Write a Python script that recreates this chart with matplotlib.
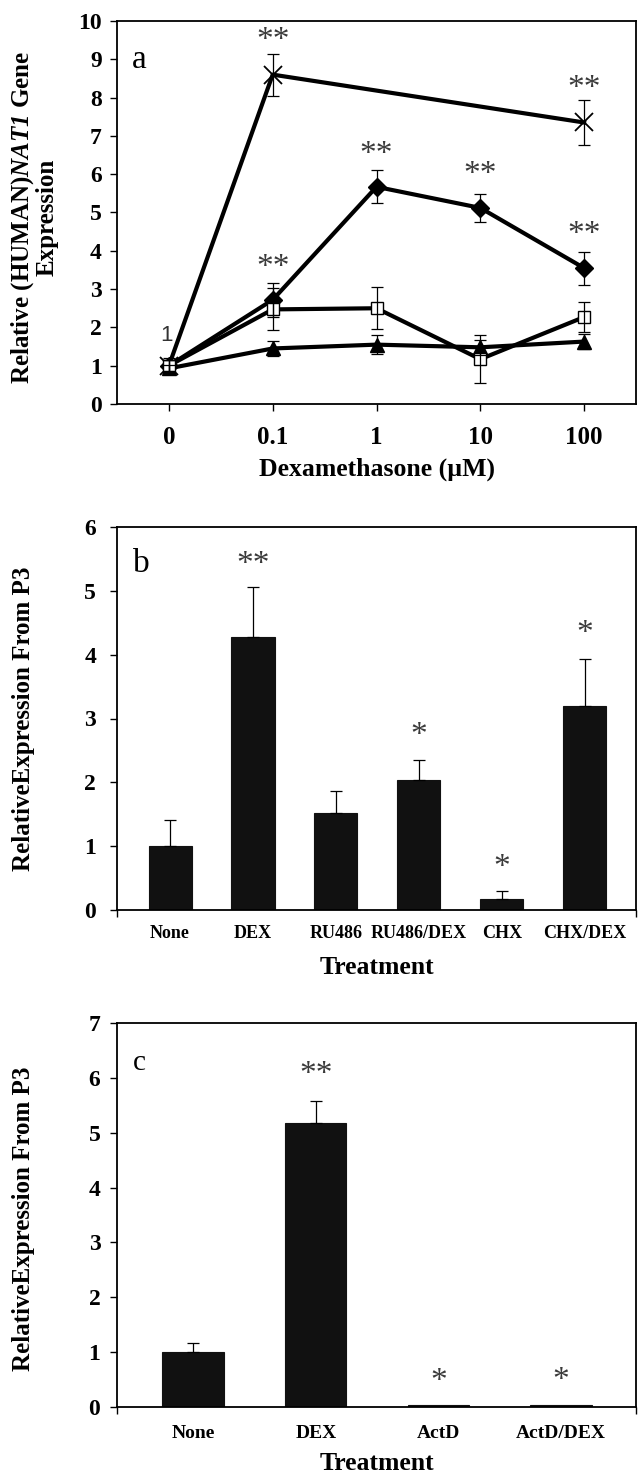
import numpy as np
import matplotlib
matplotlib.use("Agg")
import matplotlib.pyplot as plt
import matplotlib.transforms as mtransforms

plt.rcParams['font.family'] = ['Liberation Serif', 'DejaVu Serif']
plt.rcParams['mathtext.fontset'] = 'custom'
plt.rcParams['mathtext.rm'] = 'Liberation Serif'
plt.rcParams['mathtext.bfit'] = 'Liberation Serif:italic:bold'
plt.rcParams['mathtext.bf'] = 'Liberation Serif:bold'

# panel a: dexamethasone dose response
doses = ['0', '0.1', '1', '10', '100']
cross_idx = [0, 1, 4]
cross_val = [1.0, 8.6, 7.35]
cross_err = [0.15, 0.55, 0.58]
diamond_val = [1.0, 2.72, 5.67, 5.12, 3.55]
diamond_err = [0.2, 0.45, 0.43, 0.36, 0.43]
square_val = [1.0, 2.47, 2.5, 1.17, 2.27]
square_err = [0.15, 0.55, 0.55, 0.63, 0.4]
triangle_val = [0.93, 1.45, 1.55, 1.48, 1.63]
triangle_err = [0.1, 0.2, 0.25, 0.2, 0.2]
stars_a_x = [1, 4, 2, 3, 4, 1]
stars_a_y = [9.67, 8.41, 6.7, 6.18, 4.6, 3.75]
stars_a_txt = ['**', '**', '**', '**', '**', '**']

# panel b: treatments
treat_b = ['None', 'DEX', 'RU486', 'RU486/DEX', 'CHX', 'CHX/DEX']
bars_b = [1.0, 4.28, 1.52, 2.03, 0.18, 3.2]
err_b = [0.41, 0.78, 0.35, 0.32, 0.12, 0.73]
stars_b_x = [1, 3, 4, 5]
stars_b_y = [5.51, 2.84, 0.77, 4.44]
stars_b_txt = ['**', '*', '*', '*']

# panel c: actinomycin D
treat_c = ['None', 'DEX', 'ActD', 'ActD/DEX']
bars_c = [1.0, 5.17, 0.03, 0.03]
err_c = [0.17, 0.41, 0.0, 0.0]
stars_c_x = [1, 2, 3]
stars_c_y = [6.18, 0.58, 0.61]
stars_c_txt = ['**', '*', '*']

W, H = 638, 1475
fig = plt.figure(figsize=(W / 100, H / 100), dpi=100)


def rect(top, bottom, left=117, right=636):
    return [left / W, 1 - bottom / H, (right - left) / W, (bottom - top) / H]


def style_axes(ax, ypad):
    for s in ax.spines.values():
        s.set_linewidth(1.3)
    ax.tick_params(axis='y', direction='out', length=5, width=1, pad=ypad,
                   labelsize=17)
    for lab in ax.get_yticklabels():
        lab.set_fontweight('bold')


def stars(ax, xs, ys, txts):
    off = mtransforms.offset_copy(ax.transData, fig=fig, x=0, y=-5, units='points')
    for x, y, t in zip(xs, ys, txts):
        ax.text(x, y, t, transform=off, ha='center', va='center', fontsize=24,
                color='#3a3a3a')


# ---- panel a
ax = fig.add_axes(rect(21, 404))
x = np.arange(len(doses))
lw = 3
ax.plot(cross_idx, cross_val, color='black', lw=lw, marker='x', ms=13, mew=1.3, zorder=3)
ax.plot(x, diamond_val, color='black', lw=lw, marker='D', ms=9.5, zorder=3)
ax.plot(x, square_val, color='black', lw=lw, marker='s', ms=8, mfc='white', mew=1, zorder=4)
ax.plot(x, triangle_val, color='black', lw=lw, marker='^', ms=10, zorder=3)
ekw = dict(fmt='none', ecolor='black', elinewidth=0.9, capsize=4, capthick=0.9, zorder=5)
ax.errorbar(cross_idx, cross_val, yerr=cross_err, **ekw)
ax.errorbar(x, diamond_val, yerr=diamond_err, **ekw)
ax.errorbar(x, square_val, yerr=square_err, **ekw)
ax.errorbar(x, triangle_val, yerr=triangle_err, **ekw)
ax.set_xlim(-0.5, 4.5)
ax.set_ylim(0, 10)
ax.set_yticks(range(0, 11))
ax.set_xticks(x)
ax.set_xticklabels(doses, fontsize=18, fontweight='bold')
ax.tick_params(axis='x', direction='out', length=5, width=1, pad=11)
style_axes(ax, 6)
ax.set_xlabel('Dexamethasone (µM)', fontsize=18.5, fontweight='bold')
ax.xaxis.set_label_coords(0.501, -0.141)
ax.set_ylabel('Relative (HUMAN)$\\mathbfit{NAT1}$ Gene\nExpression', fontsize=18,
              fontweight='bold', linespacing=1.0)
ax.yaxis.set_label_coords(-0.112, 0.488)
ax.text(-0.29, 8.98, 'a', fontsize=24, ha='center', va='center')
ax.text(-0.02, 1.78, '1', fontsize=16, ha='center', va='center', color='#333333',
        family='Liberation Sans')
stars(ax, stars_a_x, stars_a_y, stars_a_txt)

# ---- panel b
ax = fig.add_axes(rect(527, 910))
xb = np.arange(len(treat_b))
ax.bar(xb, bars_b, width=0.52, color='#111111', edgecolor='#111111', lw=0.8, zorder=2)
ax.errorbar(xb, bars_b, yerr=[np.zeros(len(err_b)), err_b], **ekw)
ax.set_xlim(-0.64, 5.62)
ax.set_ylim(0, 6)
ax.set_yticks(range(0, 7))
ax.set_xticks(xb)
ax.set_xticklabels(treat_b, fontsize=13, fontweight='bold')
ax.tick_params(axis='x', length=0, pad=11)
ax.set_xticks([-0.64, 5.62], minor=True)
ax.tick_params(axis='x', which='minor', direction='out', length=5, width=1)
style_axes(ax, 10)
ax.set_xlabel('Treatment', fontsize=18.5, fontweight='bold')
ax.xaxis.set_label_coords(0.5, -0.12)
ax.set_ylabel('RelativeExpression From P3', fontsize=18, fontweight='bold')
ax.yaxis.set_label_coords(-0.158, 0.5)
ax.text(-0.35, 5.43, 'b', fontsize=24, ha='center', va='center')
stars(ax, stars_b_x, stars_b_y, stars_b_txt)

# ---- panel c
ax = fig.add_axes(rect(1023, 1407))
xc = np.arange(len(treat_c))
ax.bar(xc, bars_c, width=0.5, color='#111111', edgecolor='#111111', lw=0.8, zorder=2)
has_err = np.array(err_c) > 0
ax.errorbar(xc[has_err], np.array(bars_c)[has_err],
            yerr=[np.zeros(has_err.sum()), np.array(err_c)[has_err]], **ekw)
ax.set_xlim(-0.62, 3.61)
ax.set_ylim(0, 7)
ax.set_yticks(range(0, 8))
ax.set_xticks(xc)
ax.set_xticklabels(treat_c, fontsize=14, fontweight='bold')
ax.tick_params(axis='x', length=0, pad=13)
ax.set_xticks([-0.62, 3.61], minor=True)
ax.tick_params(axis='x', which='minor', direction='out', length=5, width=1)
style_axes(ax, 7)
ax.set_xlabel('Treatment', fontsize=18.5, fontweight='bold')
ax.xaxis.set_label_coords(0.5, -0.117)
ax.set_ylabel('RelativeExpression From P3', fontsize=18, fontweight='bold')
ax.yaxis.set_label_coords(-0.158, 0.49)
ax.text(-0.44, 6.27, 'c', fontsize=21, ha='center', va='center')
stars(ax, stars_c_x, stars_c_y, stars_c_txt)

fig.savefig('out.png', dpi=100)
